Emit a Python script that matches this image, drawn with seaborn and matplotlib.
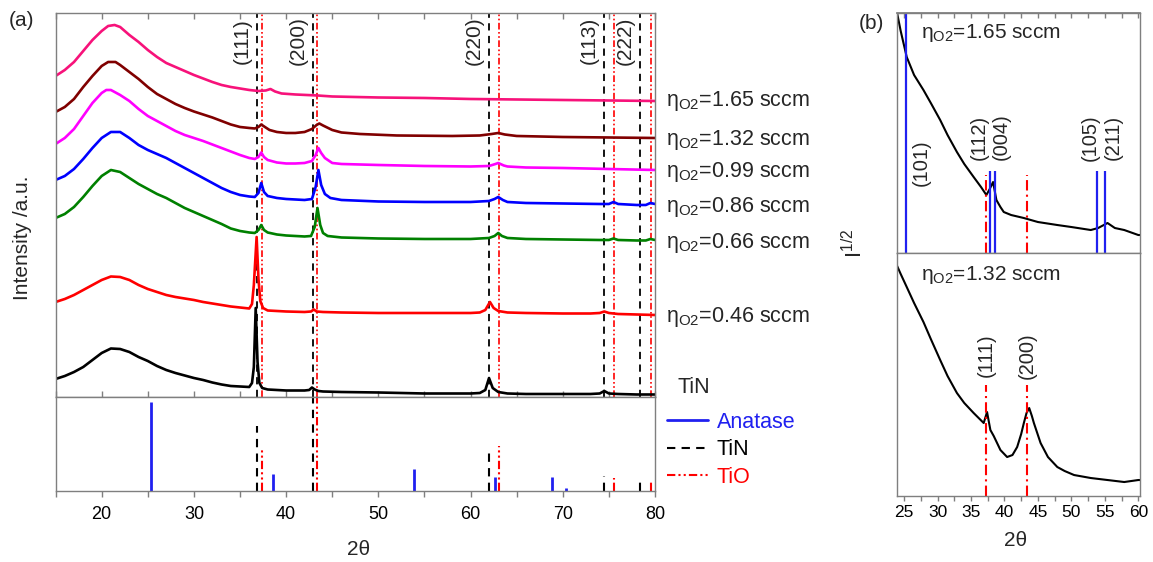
import matplotlib
matplotlib.use("Agg")
import matplotlib.pyplot as plt
from matplotlib.lines import Line2D
from matplotlib.ticker import MultipleLocator
import seaborn as sns

# ---------------------------------------------------------------- data
# XRD patterns, panel (a): 2theta and stacked intensity (offset arbitrary units)
tin_x = [15, 16, 17, 18, 19, 20, 21, 22, 23, 24, 25, 26, 27, 28, 29, 30, 31, 32, 33, 34, 35, 36,
         36.3, 36.5, 36.7, 36.9, 37.1, 37.4, 38, 39, 40, 41, 42, 42.5, 42.8, 43.1, 43.5, 44, 46, 50,
         55, 60, 61, 61.6, 62.0, 62.4, 63, 64, 66, 70, 73, 74, 74.5, 75, 76, 78, 80]
tin_y = [18, 21, 25, 30, 37, 44, 48.5, 48, 45, 40, 36, 31, 27, 24, 21.5, 19, 17, 14.5, 12.5, 11, 10.5, 10,
         14, 30, 89, 35, 14, 9, 7.5, 7, 6.5, 6.5, 6.5, 7, 9.5, 7.5, 6, 5.5, 5, 4.5,
         3.5, 3.5, 4, 7, 19, 9, 5, 3.5, 3, 3, 3, 3.5, 6, 3.5, 3, 2.5, 2.5]

s046_x = [15, 16, 17, 18, 19, 20, 21, 22, 23, 24, 25, 26, 27, 28, 29, 30, 31, 32, 33, 34, 35, 36,
          36.3, 36.5, 36.8, 37.0, 37.2, 37.5, 38, 39, 40, 42, 42.7, 43, 43.3, 44, 46, 50, 55, 60,
          61, 61.6, 62.1, 62.5, 63, 64, 66, 70, 73, 74, 74.5, 75, 76, 78, 80]
s046_y = [95, 98, 102, 107, 112, 117, 120.5, 120, 117, 112, 108, 105, 102, 100, 98.5, 97, 95, 93.5, 92, 90.5, 89.5, 88.5,
          93, 112, 160, 118, 96, 89, 86.5, 86, 85.5, 85, 85.5, 87.5, 85.5, 85, 84.5, 84, 84, 84,
          84.5, 87, 95, 89, 86, 84.5, 84, 83.5, 83.5, 84, 85.5, 84, 83, 82.5, 82]

s066_x = [15, 16, 17, 18, 19, 20, 21, 22, 23, 24, 25, 26, 27, 28, 29, 30, 31, 32, 33, 34, 35, 36,
          36.6, 37.0, 37.3, 37.6, 38, 39, 40, 41, 42, 42.7, 43.1, 43.4, 43.7, 44, 44.5, 46, 50, 55, 60,
          62, 62.6, 63, 63.4, 64, 66, 70, 74, 75, 75.5, 76, 78, 79, 79.5, 80]
s066_y = [179, 183, 190, 200, 211, 221, 227, 225, 219, 213, 208, 203, 199, 194, 189, 185, 181, 177, 173, 168.5, 166, 164.5,
          164, 167, 172, 167, 164.5, 162.5, 161.5, 161, 160.5, 161, 170, 189, 172, 164, 161, 159.5, 158.5, 158, 158,
          159, 161, 164, 161, 159, 158, 157.5, 157, 157, 158.5, 157, 156.5, 156.5, 158, 157]

s086_x = [15, 16, 17, 18, 19, 20, 21, 22, 23, 24, 25, 26, 27, 28, 29, 30, 31, 32, 33, 34, 35, 36,
          36.6, 37.0, 37.3, 37.6, 38, 39, 40, 41, 42, 42.8, 43.2, 43.5, 43.8, 44.2, 44.8, 46, 50, 55, 60,
          62, 62.6, 63, 63.5, 64, 66, 70, 74, 75, 75.5, 76, 78, 79, 79.5, 80]
s086_y = [217, 221, 228, 238, 249, 259, 265, 265, 259, 252, 247, 243, 239, 234, 229, 224, 219, 214, 209, 205, 202, 200.5,
          200, 204, 214, 205, 201, 199, 198, 197.5, 197, 198, 210, 227, 212, 203, 199, 197, 195.5, 195, 195,
          196, 198, 200, 197, 195, 194, 193.5, 193, 193, 195, 193, 192, 192, 194, 193]

s099_x = [15, 16, 17, 18, 19, 20, 20.5, 21, 22, 23, 24, 25, 26, 27, 28, 29, 30, 31, 32, 33, 34, 35, 36,
          36.6, 37.0, 37.3, 37.6, 38, 39, 40, 41, 42, 42.8, 43.2, 43.5, 43.8, 44.2, 45, 46, 50, 55, 60,
          62, 62.7, 63, 63.6, 64, 66, 70, 75, 80]
s099_y = [253, 259, 268, 281, 294, 304, 307, 307, 302, 296, 288, 281, 276, 271, 266, 262, 259, 256, 252.5, 249, 245.5, 242, 239,
          238, 240, 244.5, 240, 237, 234.5, 233.5, 233.5, 234, 236, 242, 249, 244, 239, 234, 233, 232, 231, 230.5,
          231, 233, 234, 231.5, 230.5, 229.5, 229, 228, 227]

s132_x = [15, 16, 17, 18, 19, 20, 20.7, 21.5, 22, 23, 24, 25, 26, 27, 28, 29, 30, 31, 32, 33, 34, 35, 36,
          36.6, 37.0, 37.3, 37.7, 38.2, 39, 40, 41, 42, 42.8, 43.3, 43.6, 44, 45, 46, 48, 52, 58,
          61, 62.3, 63, 63.7, 65, 70, 75, 80]
s132_y = [285, 290, 298, 310, 321, 331, 335, 335, 332, 325, 318, 310, 303, 298, 293, 289, 285.5, 282.5, 279.5, 276, 272.5, 270, 269,
          268.5, 270, 272.5, 270, 267, 265, 264, 264, 265, 268, 272, 273.5, 271.5, 267, 264.5, 263, 261.5, 261,
          261.5, 263, 264, 262.5, 261, 260, 259.5, 259]

s165_x = [15, 16, 17, 18, 19, 20, 20.7, 21.4, 22, 23, 24, 25, 26, 27, 28, 29, 30, 31, 32, 33, 34, 35, 36,
          37, 37.8, 38.3, 38.8, 39.5, 41, 43.4, 45, 50, 55, 60, 65, 70, 75, 80]
s165_y = [321, 327, 335, 346, 357, 366, 371, 372, 370, 362, 355, 347, 340, 334, 330, 326, 322, 318.5, 315, 312, 310, 308.5, 307,
          306, 306.5, 308, 305.5, 303.5, 302.5, 301.5, 300.5, 299.5, 299, 298, 297.5, 297, 296.5, 296]

series_a = [
    ("TiN", tin_x, tin_y, "#000000"),
    ("0.46", s046_x, s046_y, "#ff0000"),
    ("0.66", s066_x, s066_y, "#008000"),
    ("0.86", s086_x, s086_y, "#0000ff"),
    ("0.99", s099_x, s099_y, "#ff00ff"),
    ("1.32", s132_x, s132_y, "#800000"),
    ("1.65", s165_x, s165_y, "#f7127a"),
]
flow_labels = ["0.46", "0.66", "0.86", "0.99", "1.32", "1.65"]

# Reference patterns (relative intensity, %)
anatase_pos = [25.3, 38.55, 53.9, 62.7, 68.8, 70.3]
anatase_int = [95, 18, 23, 15, 15, 3]
tin_pos = [36.8, 42.86, 62.05, 74.45, 78.4]
tin_int = [69, 100, 43, 16, 11]
tio_pos = [37.4, 43.4, 63.05, 75.55, 79.55]
tio_int = [44, 100, 48, 14, 12]
tin_hkl = ["(111)", "(200)", "(220)", "(113)", "(222)"]

# Panel (b): square-root intensity, 1.65 and 1.32 sccm
b165_x = [23.9, 24.5, 25.4, 26.5, 27.9, 29, 30.4, 31.5, 32.9, 34, 35.4, 36.5, 37.3, 37.8, 38.3, 38.8, 39.4,
          39.9, 41, 42.9, 45, 47.9, 50, 52.9, 54, 55.4, 56.5, 57.9, 60, 60.25]
b165_y = [242, 222, 196, 178, 163, 150, 133, 118, 101, 89, 76, 66, 58, 64, 71, 53, 46,
          41, 38, 35, 31, 28, 26, 23, 25, 30, 25, 23, 18, 18]
b132_x = [23.9, 24.5, 25.4, 26.5, 27.9, 29, 30.4, 31.5, 32.9, 34, 35.4, 36.3, 36.9, 37.4, 37.9, 38.4, 39.4,
          40.4, 41.2, 41.9, 42.5, 42.9, 43.3, 43.7, 44.1, 44.4, 45.4, 46.5, 47.9, 49, 50.4, 52.9, 55.4,
          57.9, 60, 60.25]
b132_y = [231, 222, 209, 193, 174, 157, 136, 120, 103, 93, 83, 77, 73, 84, 66, 60, 46,
          39, 41, 49, 62, 73, 83, 88, 80, 73, 53, 39, 29, 25, 21, 18, 16,
          14, 16, 16]
anatase_b_pos = [25.28, 37.8, 38.57, 53.89, 55.06]
anatase_b_hkl = ["(101)", "(112)", "(004)", "(105)", "(211)"]
anatase_b_int = [240, 82, 82, 82, 82]
tio_b_pos = [37.3, 43.4]
tio_b1_int = [78, 78]
tio_b2_int = [111, 111]
b2_hkl = ["(111)", "(200)"]

# ---------------------------------------------------------------- style
sns.set_theme(style="white")
plt.rcParams["font.family"] = ["Liberation Sans", "DejaVu Sans"]
plt.rcParams["mathtext.fontset"] = "custom"
plt.rcParams["mathtext.rm"] = "Liberation Sans"
plt.rcParams["mathtext.it"] = "Liberation Sans:italic"
plt.rcParams["mathtext.bf"] = "Liberation Sans:bold"

GREY = "#7f7f7f"
TIN_LS = (0, (4, 3))
TIO_LS = (0, (4, 1.5, 1, 1.5, 1, 1.5))
BLUE = "#2020f0"

fig = plt.figure(figsize=(11.53, 5.62), dpi=100)
ax_top = fig.add_axes([0.0482, 0.2936, 0.5199, 0.6833])
ax_ref = fig.add_axes([0.0482, 0.1263, 0.5199, 0.1673])
ax_b1 = fig.add_axes([0.7777, 0.5498, 0.2110, 0.4270])
ax_b2 = fig.add_axes([0.7777, 0.1174, 0.2110, 0.4324])

for ax in (ax_top, ax_ref, ax_b1, ax_b2):
    for sp in ax.spines.values():
        sp.set_color(GREY)
        sp.set_linewidth(1.0)
    ax.set_yticks([])

# ---------------------------------------------------------------- panel (a)
for name, xs, ys, col in series_a:
    sns.lineplot(x=xs, y=ys, ax=ax_top, color=col, lw=1.9, legend=False)

for x in tin_pos:
    ax_top.axvline(x, color="black", ls=TIN_LS, lw=1.3, zorder=1)
for x in tio_pos:
    ax_top.axvline(x, color="red", ls=TIO_LS, lw=1.2, zorder=1)

ax_top.set_xlim(15, 80)
ax_top.set_ylim(0, 384)
ax_top.xaxis.set_major_locator(MultipleLocator(5))
ax_top.tick_params(axis="x", which="both", direction="in", top=True, bottom=True,
                   labelbottom=False, length=4, width=1, color=GREY)

xtr = ax_top.get_xaxis_transform()
for x, lab in zip(tin_pos, tin_hkl):
    ax_top.text(x - 1.6, 0.928, lab, transform=xtr, rotation=90, ha="center",
                va="center", fontsize=15)

label_base = [75.3, 148.7, 184.7, 219.7, 252, 291]
for flow, yb in zip(flow_labels, label_base):
    ax_top.text(81.2, yb, r"η$_{\mathrm{O2}}$=" + flow + " sccm", fontsize=15.5,
                ha="left", va="baseline", clip_on=False)
ax_top.text(82.4, 3.7, "TiN", fontsize=15.5, ha="left", va="baseline", clip_on=False)

ax_ref.vlines(anatase_pos, 0, anatase_int, color=BLUE, lw=2)
ax_ref.vlines(tin_pos, 0, tin_int, color="black", linestyles=[TIN_LS], lw=1.5)
ax_ref.vlines(tio_pos, 0, tio_int, color="red", linestyles=[TIO_LS], lw=1.5)
ax_ref.set_xlim(15, 80)
ax_ref.set_ylim(0, 100)
ax_ref.xaxis.set_major_locator(MultipleLocator(10))
ax_ref.xaxis.set_minor_locator(MultipleLocator(5))
ax_ref.tick_params(axis="x", which="both", direction="out", bottom=True, top=False,
                   length=4, width=1, color=GREY, labelsize=13, pad=7, labelcolor="black")

handles = [Line2D([], [], color=BLUE, lw=2),
           Line2D([], [], color="black", ls=TIN_LS, lw=1.5),
           Line2D([], [], color="red", ls=TIO_LS, lw=1.5)]
fig.legend(handles, ["Anatase", "TiN", "TiO"], loc="upper left",
           bbox_to_anchor=(0.5785, 0.267), frameon=False, fontsize=15.5,
           handlelength=1.9, handletextpad=0.4, labelspacing=0.3, borderpad=0,
           borderaxespad=0, labelcolor=[BLUE, "black", "red"])

fig.text(0.0199, 0.5765, "Intensity /a.u.", rotation=90, ha="center", va="center", fontsize=15)
fig.text(0.3114, 0.0214, "2θ", ha="center", va="center", fontsize=15)
fig.text(0.019, 0.964, "(a)", ha="center", va="center", fontsize=15)

# ---------------------------------------------------------------- panel (b)
sns.lineplot(x=b165_x, y=b165_y, ax=ax_b1, color="black", lw=1.5, legend=False)
sns.lineplot(x=b132_x, y=b132_y, ax=ax_b2, color="black", lw=1.5, legend=False)

ax_b1.vlines(anatase_b_pos, 0, anatase_b_int, color=BLUE, lw=1.6)
ax_b1.vlines(tio_b_pos, 0, tio_b1_int, color="red", linestyles=[(0, (5, 2, 1, 2))], lw=1.5)
ax_b2.vlines(tio_b_pos, 0, tio_b2_int, color="red", linestyles=[(0, (5, 2, 1, 2))], lw=1.5)

for ax, top in ((ax_b1, 240), (ax_b2, 243)):
    ax.set_xlim(23.9, 60.25)
    ax.set_ylim(0, top)
    ax.xaxis.set_major_locator(MultipleLocator(5))
    ax.xaxis.set_minor_locator(MultipleLocator(2.5))
    ax.tick_params(axis="x", which="both", direction="out", bottom=True, top=False,
                   length=3.5, width=1, color=GREY, labelsize=12.5, pad=3, labelcolor="black")
ax_b1.tick_params(axis="x", labelbottom=False)

sec = ax_b1.secondary_xaxis("top")
sec.xaxis.set_major_locator(MultipleLocator(2.5))
sec.tick_params(axis="x", direction="in", length=3.5, width=1, color=GREY, labeltop=False)
for sp in sec.spines.values():
    sp.set_color(GREY)

btr1 = ax_b1.get_xaxis_transform()
b1_lab_x = [27.6, 36.3, 39.56, 52.77, 56.26]
b1_lab_y = [0.375, 0.483, 0.483, 0.48, 0.48]
for x, y, lab in zip(b1_lab_x, b1_lab_y, anatase_b_hkl):
    ax_b1.text(x, y, lab, transform=btr1, rotation=90, ha="center", va="center", fontsize=14.5)
ax_b1.text(27.6, 0.895, r"η$_{\mathrm{O2}}$=1.65 sccm", transform=btr1, fontsize=15,
           ha="left", va="baseline")

btr2 = ax_b2.get_xaxis_transform()
for x, lab in zip(tio_b_pos, b2_hkl):
    ax_b2.text(x, 0.578, lab, transform=btr2, rotation=90, ha="center", va="center", fontsize=14.5)
ax_b2.text(27.6, 0.889, r"η$_{\mathrm{O2}}$=1.32 sccm", transform=btr2, fontsize=15,
           ha="left", va="baseline")

fig.text(0.7416, 0.5676, r"I$^{1/2}$", rotation=90, ha="center", va="center", fontsize=16)
fig.text(0.881, 0.039, "2θ", ha="center", va="center", fontsize=15)
fig.text(0.756, 0.959, "(b)", ha="center", va="center", fontsize=15)

fig.savefig("out.png", dpi=100)
